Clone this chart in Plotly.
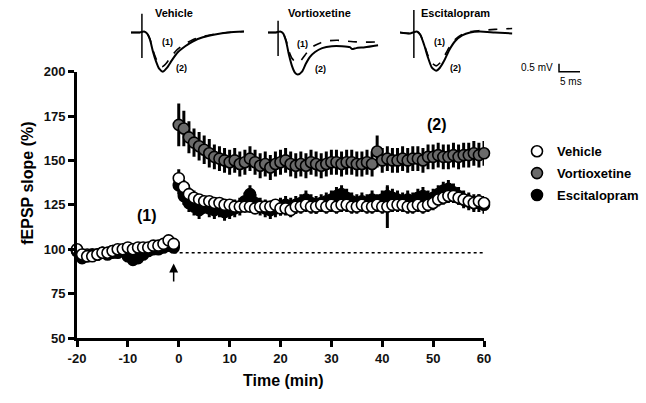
import plotly.graph_objects as go

# ---------------- data: main time course ----------------
TIME_MIN = list(range(-20, 61))

VEH = [100, 97, 96, 96, 97, 98, 98, 99, 100, 100, 101, 100, 101, 101, 101, 102, 102, 103, 105, 103,
       140, 135, 131, 129, 128, 127, 127, 126, 126, 125, 125, 124, 124, 124, 124, 123, 124, 124, 124, 125,
       123, 123, 122, 124, 124, 125, 124, 124, 125, 124, 125, 124, 125, 125, 124, 124, 125, 124, 124, 125,
       124, 124, 125, 125, 125, 124, 124, 125, 124, 125, 126, 128, 129, 130, 130, 129, 128, 127, 126, 127, 126]
VEH_ERR = [2] * 20 + [5, 4, 4, 4, 3, 3, 3, 3, 3, 3, 3, 3, 3, 3, 3, 3, 3, 3, 3, 3,
                      4, 4, 4, 4, 4, 4, 4, 4, 4, 4, 4, 4, 4, 4, 4, 4, 4, 4, 4, 4,
                      4, 12, 4, 4, 4, 4, 4, 4, 4, 4, 4, 4, 4, 4, 4, 4, 4, 4, 4, 4, 4]

VOR = [99, 97, 97, 97, 97, 98, 98, 99, 99, 99, 100, 99, 100, 100, 100, 101, 101, 102, 103, 102,
       170, 168, 163, 160, 158, 156, 154, 152, 151, 150, 149, 150, 148, 149, 151, 149, 147, 148, 146, 148,
       149, 150, 148, 147, 148, 147, 149, 148, 147, 148, 149, 149, 148, 149, 149, 148, 148, 149, 148, 155,
       150, 151, 150, 150, 151, 150, 151, 151, 150, 152, 152, 153, 152, 152, 153, 152, 153, 153, 154, 153, 154]
VOR_ERR = [2] * 20 + [12, 10, 9, 8, 8, 8, 8, 7, 7, 7, 7, 7, 7, 7, 7, 7, 7, 7, 7, 7,
                      7, 7, 7, 7, 7, 7, 7, 7, 7, 7, 7, 7, 7, 7, 7, 7, 7, 7, 7, 9,
                      7, 7, 7, 7, 7, 7, 7, 7, 7, 7, 7, 7, 7, 7, 7, 7, 7, 7, 7, 7, 7]

ESC = [99, 95, 96, 97, 97, 98, 97, 98, 98, 99, 96, 94, 95, 97, 99, 100, 100, 101, 102, 101,
       136, 130, 126, 124, 122, 125, 123, 122, 123, 121, 122, 123, 124, 127, 131, 126, 124, 123, 122, 123,
       124, 125, 124, 125, 126, 128, 126, 125, 126, 127, 128, 130, 131, 129, 127, 126, 127, 126, 128, 126,
       128, 130, 129, 128, 127, 128, 127, 129, 130, 128, 129, 131, 133, 134, 132, 130, 128, 127, 126, 126, 125]
ESC_ERR = [3] * 20 + [5] * 61

X_TICKS = [-20, -10, 0, 10, 20, 30, 40, 50, 60]
X_TICK_LABELS = ["-20", "-10", "0", "10", "20", "30", "40", "50", "60"]
Y_TICKS = [50, 75, 100, 125, 150, 175, 200]
BASELINE_PCT = 98
STIM_TIME = -1

# ---------------- data: example fEPSP traces (ms, mV) ----------------
VEH_T2 = [0, 2.1, 3.1, 3.8, 4.5, 5.2, 6.0, 6.7, 7.6, 8.6, 9.8, 11.2, 12.9, 14.8, 17.1, 20.0, 23.1, 26.9]
VEH_V2 = [0, 0, 0.06, -0.06, -0.44, -1.19, -1.88, -2.31, -2.5, -2.25, -1.75, -1.25, -0.88, -0.56, -0.31, -0.13, 0, 0.06]
VEH_T1 = [0, 2.1, 3.1, 3.8, 4.5, 5.2, 6.0, 6.7, 7.4, 8.3, 9.5, 11.0, 12.7, 14.6, 17.0, 20.0, 23.0, 26.9]
VEH_V1 = [0, 0, 0.06, -0.06, -0.40, -1.10, -1.70, -2.05, -2.19, -2.00, -1.55, -1.10, -0.75, -0.48, -0.26, -0.10, 0, 0.06]

VOR_T2 = [0, 1.9, 2.9, 3.6, 4.3, 5.0, 5.7, 6.4, 7.1, 8.1, 9.0, 10.0, 11.2, 12.9, 15.2, 17.6, 19.5, 20.0, 21.0, 23.1, 26.2]
VOR_V2 = [0, 0, 0.06, -0.06, -0.56, -1.44, -2.13, -2.56, -2.69, -2.5, -2.0, -1.56, -1.25, -1.0, -0.88, -0.88, -0.94, -1.06, -1.0, -0.94, -0.81]
VOR_T1 = [0, 1.9, 2.9, 3.6, 4.3, 5.0, 5.7, 6.4, 7.0, 7.8, 8.8, 9.8, 11.0, 12.6, 14.5, 16.5, 19.0, 21.0, 23.0, 26.2]
VOR_V1 = [0, 0, 0.06, -0.06, -0.5, -1.2, -1.65, -1.85, -1.9, -1.8, -1.45, -1.1, -0.85, -0.65, -0.53, -0.5, -0.56, -0.6, -0.62, -0.6]

ESC_T2 = [0, 2.4, 3.1, 4.0, 4.8, 5.7, 6.7, 7.6, 8.6, 9.5, 10.5, 11.7, 13.1, 14.8, 16.7, 19.0, 22.6, 26.7]
ESC_V2 = [0, -0.06, 0, 0.06, -0.13, -0.75, -1.63, -2.25, -2.44, -2.25, -1.81, -1.13, -0.56, -0.19, 0, 0.06, 0, -0.06]
ESC_T1 = [0, 2.4, 3.1, 4.0, 4.8, 5.7, 6.7, 7.6, 8.6, 9.5, 10.5, 11.7, 13.1, 14.8, 16.7, 19.0, 22.6, 26.7]
ESC_V1 = [0, -0.06, 0, 0.06, -0.13, -0.7, -1.5, -1.95, -2.13, -1.95, -1.55, -0.95, -0.45, -0.12, 0.05, 0.12, 0.2, 0.25]

ARTIFACT_MS = [2.6, 2.4, 3.3]
ARTIFACT_TOP = [1.19, 0.75, 1.44]
ARTIFACT_BOTTOM = [-1.63, -1.5, -1.63]

PANEL_NAMES = ["Vehicle", "Vortioxetine", "Escitalopram"]
SCALE_MS = 5
SCALE_MV = 0.5

# ---------------- layout geometry ----------------
W, H = 646, 403
ML, MR, MT, MB = 77, 20, 0, 65
PW, PH = W - ML - MR, H - MT - MB


def px_x(px):
    return (px - ML) / PW


def px_y(py):
    return (PH - (py - MT)) / PH


FONT = "Liberation Sans, Arial, sans-serif"
GRAY = "#6a6a6a"

fig = go.Figure()


def series(name, y, err, fill, rank):
    return go.Scatter(
        x=TIME_MIN, y=y, name=name, mode="markers",
        marker=dict(size=11, color=fill, line=dict(color="black", width=1.6)),
        error_y=dict(type="data", array=err, color="black", thickness=3, width=0),
        legendrank=rank, legendgroup=name, cliponaxis=False,
        xaxis="x", yaxis="y",
    )


fig.add_trace(series("Vortioxetine", VOR, VOR_ERR, GRAY, 2))
fig.add_trace(series("Escitalopram", ESC, ESC_ERR, "black", 3))
fig.add_trace(series("Vehicle", VEH, VEH_ERR, "white", 1))

# inset traces
PX_PER_MS = 4.2
PX_PER_MV = 16
PANEL_LEFT_PX = [131, 268, 400]
PANEL_W_PX = 200
INSET_BOTTOM_PX = 85
BASE_PX = 26

waves = [(VEH_T1, VEH_V1, VEH_T2, VEH_V2), (VOR_T1, VOR_V1, VOR_T2, VOR_V2), (ESC_T1, ESC_V1, ESC_T2, ESC_V2)]
axnames = ["x2", "x3", "x4"]
for i, (t1, v1, t2, v2) in enumerate(waves):
    xa = axnames[i]
    fig.add_trace(go.Scatter(x=t2, y=v2, mode="lines", line=dict(color="black", width=2, shape="spline", smoothing=0.6),
                             showlegend=False, xaxis=xa, yaxis="y2", hoverinfo="skip"))
    fig.add_trace(go.Scatter(x=t1, y=v1, mode="lines", line=dict(color="black", width=1.6, dash="dash", shape="spline", smoothing=0.6),
                             showlegend=False, xaxis=xa, yaxis="y2", hoverinfo="skip"))
    fig.add_trace(go.Scatter(x=[ARTIFACT_MS[i], ARTIFACT_MS[i]], y=[ARTIFACT_TOP[i], ARTIFACT_BOTTOM[i]], mode="lines",
                             line=dict(color="black", width=1.5), showlegend=False, xaxis=xa, yaxis="y2", hoverinfo="skip"))

# scale bar (in Escitalopram panel coordinates)
sb_t0 = (559 - PANEL_LEFT_PX[2]) / PX_PER_MS
sb_v0 = -(66 - BASE_PX) / PX_PER_MV
fig.add_trace(go.Scatter(x=[sb_t0, sb_t0, sb_t0 + SCALE_MS], y=[sb_v0 + SCALE_MV, sb_v0, sb_v0], mode="lines",
                         line=dict(color="black", width=1.5), showlegend=False, xaxis="x4", yaxis="y2", hoverinfo="skip"))

axis_common = dict(showline=True, linecolor="black", linewidth=3, ticks="outside", tickwidth=3, ticklen=6,
                   tickcolor="black", showgrid=False, zeroline=False,
                   tickfont=dict(family=FONT, size=13, color="#111", weight="bold"))

layout = dict(
    width=W, height=H, margin=dict(l=ML, r=MR, t=MT, b=MB),
    paper_bgcolor="white", plot_bgcolor="white",
    font=dict(family=FONT, color="black"),
    xaxis=dict(domain=[0, px_x(484)], range=[-20, 60], tickvals=X_TICKS, ticktext=X_TICK_LABELS, anchor="y", **axis_common),
    yaxis=dict(domain=[0, px_y(66)], range=[50, 200], tickvals=Y_TICKS, anchor="x", **axis_common),
    yaxis2=dict(domain=[px_y(INSET_BOTTOM_PX), 1], range=[-(INSET_BOTTOM_PX - BASE_PX) / PX_PER_MV, BASE_PX / PX_PER_MV],
                visible=False, anchor="x2"),
    showlegend=True,
    legend=dict(x=px_x(517), y=px_y(132), xanchor="left", yanchor="top", traceorder="grouped", tracegroupgap=2,
                font=dict(family=FONT, size=13, color="black", weight="bold"), bgcolor="rgba(0,0,0,0)"),
)
for i, xa in enumerate(["xaxis2", "xaxis3", "xaxis4"]):
    left = PANEL_LEFT_PX[i]
    layout[xa] = dict(domain=[px_x(left), px_x(left + PANEL_W_PX)], range=[0, PANEL_W_PX / PX_PER_MS],
                      visible=False, anchor="y2")
fig.update_layout(**layout)

ann = []
# axis titles
ann.append(dict(text="Time (min)", x=px_x(283), y=px_y(392), xref="paper", yref="paper", showarrow=False,
                font=dict(family=FONT, size=16, weight="bold")))
ann.append(dict(text="fEPSP slope (%)", x=px_x(17), y=px_y(180), xref="paper", yref="paper", showarrow=False,
                textangle=-90, font=dict(family=FONT, size=16, weight="bold")))
# phase labels
ann.append(dict(text="(1)", x=-6.2, y=119, xref="x", yref="y", showarrow=False, font=dict(family=FONT, size=16, weight="bold")))
ann.append(dict(text="(2)", x=50.8, y=170, xref="x", yref="y", showarrow=False, font=dict(family=FONT, size=16, weight="bold")))
# stimulation arrow
ann.append(dict(x=STIM_TIME, y=92, ax=STIM_TIME, ay=81, xref="x", yref="y", axref="x", ayref="y", text="",
                showarrow=True, arrowhead=2, arrowsize=1.2, arrowwidth=1.5, arrowcolor="black"))

# inset labels
title_ms = [10.3, 12.3, 13.2]
lab1 = [(8.8, -0.63), (8.3, -0.75), (9.3, -0.63)]
lab2 = [(12.1, -2.25), (12.6, -2.3), (13.3, -2.25)]
for i, xa in enumerate(axnames):
    ann.append(dict(text=PANEL_NAMES[i], x=title_ms[i], y=(BASE_PX - 6) / PX_PER_MV, xref=xa, yref="y2",
                    showarrow=False, font=dict(family=FONT, size=11, weight="bold")))
    ann.append(dict(text="(1)", x=lab1[i][0], y=lab1[i][1], xref=xa, yref="y2", showarrow=False,
                    font=dict(family=FONT, size=9, weight="bold")))
    ann.append(dict(text="(2)", x=lab2[i][0], y=lab2[i][1], xref=xa, yref="y2", showarrow=False,
                    font=dict(family=FONT, size=9, weight="bold")))
ann.append(dict(text="0.5 mV", x=sb_t0 - 1.0, y=sb_v0 + 0.25, xref="x4", yref="y2", xanchor="right", showarrow=False,
                font=dict(family=FONT, size=10)))
ann.append(dict(text="5 ms", x=sb_t0 + 2.8, y=sb_v0 - 0.65, xref="x4", yref="y2", showarrow=False,
                font=dict(family=FONT, size=10)))
fig.update_layout(annotations=ann)

fig.add_shape(type="line", x0=STIM_TIME, x1=60, y0=BASELINE_PCT, y1=BASELINE_PCT, xref="x", yref="y",
              line=dict(color="black", width=1.5, dash="dot"), layer="below")

fig.write_html("out.html", config={"displayModeBar": False},
               post_script="document.body.style.margin='0';document.body.style.overflow='hidden';")
